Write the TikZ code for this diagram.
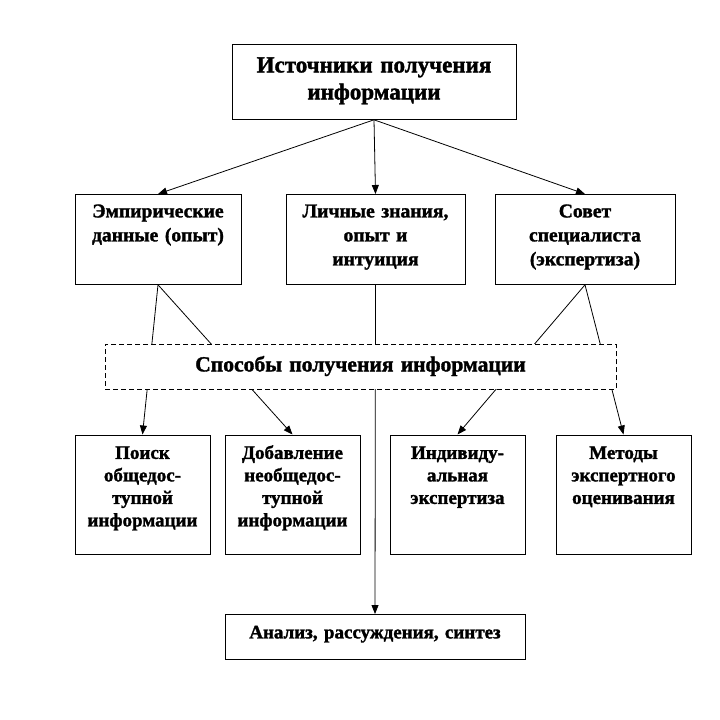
\documentclass[tikz,border=0pt]{standalone}
\usepackage{fontspec}
\setmainfont{Liberation Serif}[BoldFeatures={FakeBold=1.5}]
\usetikzlibrary{arrows.meta}

\begin{document}
\begin{tikzpicture}[x=1pt,y=-1pt,
		box/.style={draw, anchor=north, align=center, inner sep=0pt},
		upper/.style={box, text height=23pt, text depth=67pt, font=\bfseries\fontsize{19.6}{24}\selectfont},
		lower/.style={box, text width=135pt, text height=24pt, text depth=95.5pt, font=\bfseries\fontsize{19}{22.5}\selectfont}]
		\tikzstyle{every path}=[line width=0.8pt]
		\tikzstyle{arrow}=[-{Triangle[length=9pt,width=7pt]}]
		\useasboundingbox (0,0) rectangle (720,720);
		\node[box, text width=284pt, text height=28pt, text depth=47pt, font=\bfseries\fontsize{23}{27}\selectfont] (src) at (374,44) {Источники получения\\информации};
		\node[upper, text width=166pt] (emp) at (158,194) {Эмпирические\\данные (опыт)};
		\node[upper, text width=179pt] (own) at (375.5,194) {Личные знания,\\опыт и\\интуиция};
		\node[upper, text width=180pt] (exp) at (585,194) {Совет\\специалиста\\(экспертиза)};
		\node[lower] (search) at (142.5,434.5) {Поиск\\общедос-\\тупной\\информации};
		\node[lower] (add) at (292.5,434.5) {Добавление\\необщедос-\\тупной\\информации};
		\node[lower] (indiv) at (457.5,434.5) {Индивиду-\\альная\\экспертиза};
		\node[lower] (methods) at (623.5,434.5) {Методы\\экспертного\\оценивания};
		\node[box, text width=300pt, text height=24pt, text depth=21pt, font=\bfseries\fontsize{19}{23}\selectfont] (synth) at (375,614) {Анализ, рассуждения, синтез};
		\draw[arrow] (src.south) -- (emp.north);
		\draw[arrow] (src.south) -- (own.north);
		\draw[arrow] (src.south) -- (exp.north);
		\draw[arrow] (emp.south) -- (search.north);
		\draw[arrow] (emp.south) -- (add.north);
		\draw[arrow] (own.south) -- (synth.north);
		\draw[arrow] (exp.south) -- (indiv.north);
		\draw[arrow] (exp.south) -- (methods.north);
		% dashed box covers the lines passing under it
		\node[box, dash pattern=on 5pt off 3pt, fill=white, text width=511pt, text height=27pt, text depth=18pt, font=\bfseries\fontsize{21.6}{26}\selectfont] (ways) at (360.5,344) {Способы получения информации};
\end{tikzpicture}
\end{document}
